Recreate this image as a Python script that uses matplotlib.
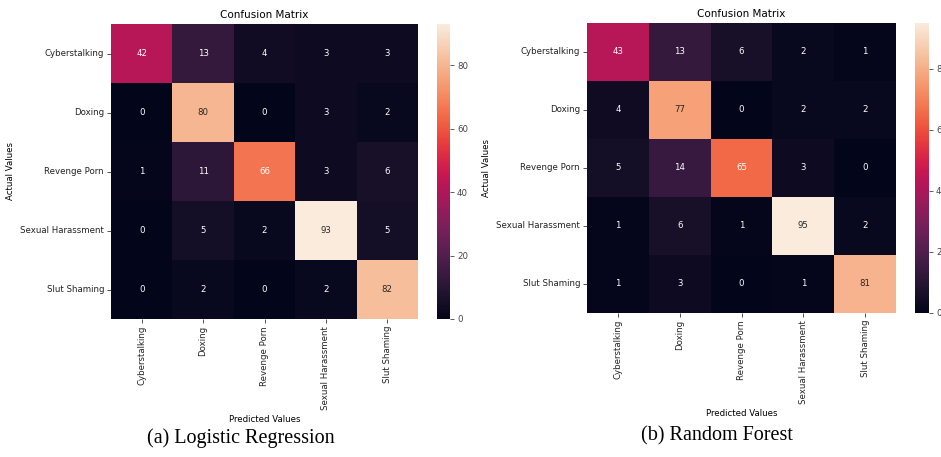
import numpy as np
import matplotlib
matplotlib.use("Agg")
import matplotlib.pyplot as plt
import seaborn as sns

# Clases
labels = ["Cyberstalking", "Doxing", "Revenge Porn", "Sexual Harassment", "Slut Shaming"]

# Matrices de confusión
cm_lr = np.array([[42, 13, 4, 3, 3],
                  [0, 80, 0, 3, 2],
                  [1, 11, 66, 3, 6],
                  [0, 5, 2, 93, 5],
                  [0, 2, 0, 2, 82]])

cm_rf = np.array([[43, 13, 6, 2, 1],
                  [4, 77, 0, 2, 2],
                  [5, 14, 65, 3, 0],
                  [1, 6, 1, 95, 2],
                  [1, 3, 0, 1, 81]])

captions = ["(a) Logistic Regression", "(b) Random Forest"]

W, H = 941, 457
fig = plt.figure(figsize=(W / 100, H / 100), dpi=100)


def box(x0, y0, x1, y1):
    # pixeles -> fracción de figura
    return [x0 / W, 1 - y1 / H, (x1 - x0) / W, (y1 - y0) / H]


fs = 6.2

# Regresión logística
ax1 = fig.add_axes(box(111, 24, 418, 319))
cax1 = fig.add_axes(box(437, 24, 450, 319))
sns.heatmap(cm_lr, annot=True, fmt="d", ax=ax1, cbar_ax=cax1,
            xticklabels=labels, yticklabels=labels, annot_kws={"size": fs})

# Random forest
ax2 = fig.add_axes(box(587, 23, 896, 313))
cax2 = fig.add_axes(box(915, 23, 929, 313))
sns.heatmap(cm_rf, annot=True, fmt="d", ax=ax2, cbar_ax=cax2,
            xticklabels=labels, yticklabels=labels, annot_kws={"size": fs})

for ax, cax in [(ax1, cax1), (ax2, cax2)]:
    ax.set_title("Confusion Matrix", fontsize=7.5, pad=4)
    ax.set_xlabel("Predicted Values", fontsize=fs)
    ax.set_ylabel("Actual Values", fontsize=fs)
    ax.tick_params(labelsize=fs, length=3, width=0.6, pad=2, colors="#333333")
    plt.setp(ax.get_xticklabels(), rotation=90, color="#222222")
    plt.setp(ax.get_yticklabels(), rotation=0, color="#222222")
    cax.tick_params(labelsize=fs, length=3, width=0.6, pad=2, colors="#444444")
    cax.set_yticks([0, 20, 40, 60, 80])

fig.text(241 / W, 1 - 438 / H, captions[0], family="Liberation Serif",
         fontsize=14.5, ha="center", va="center")
fig.text(717 / W, 1 - 436 / H, captions[1], family="Liberation Serif",
         fontsize=14.5, ha="center", va="center")

plt.savefig("out.png", dpi=100)
plt.close()
